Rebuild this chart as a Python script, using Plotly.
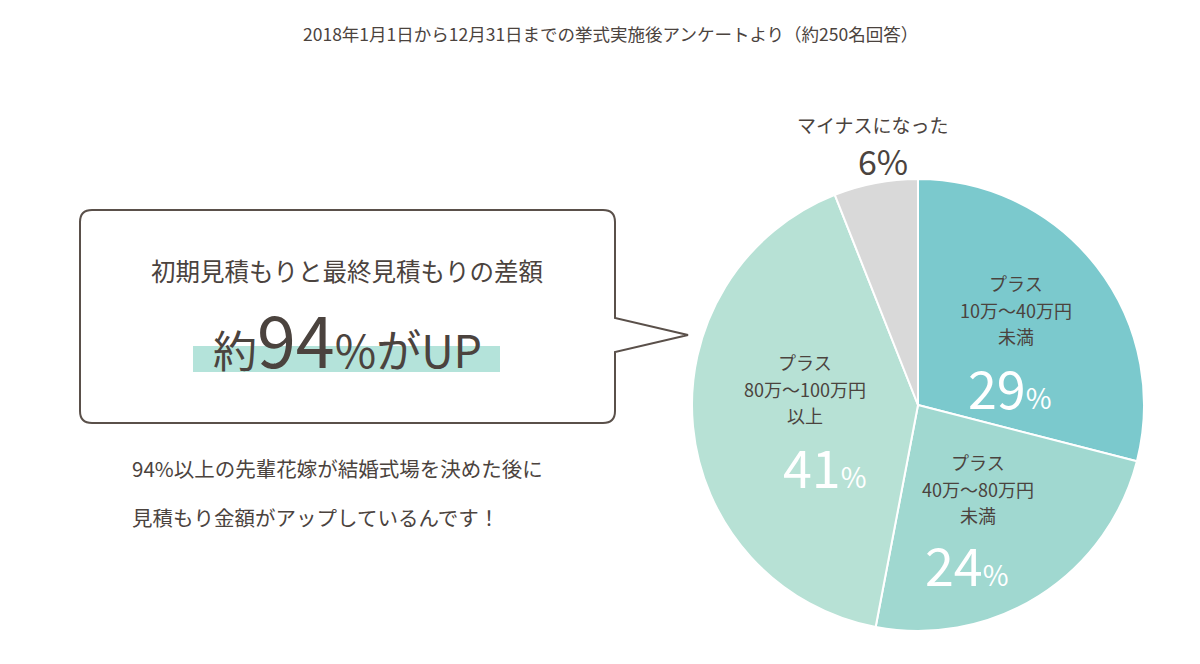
import plotly.graph_objects as go

# ---- data ----
categories = ["プラス 10万～40万円未満", "プラス 40万～80万円未満", "プラス 80万～100万円以上", "マイナスになった"]
values = [29, 24, 41, 6]
slice_colors = ["#7bc9cd", "#a0d8d0", "#b7e1d5", "#d9d9d9"]
label_lines = [["プラス", "10万～40万円", "未満"],
               ["プラス", "40万～80万円", "未満"],
               ["プラス", "80万～100万円", "以上"],
               ["マイナスになった"]]

header = "2018年1月1日から12月31日までの挙式実施後アンケートより（約250名回答）"
box_title = "初期見積もりと最終見積もりの差額"
headline_pct = 94
body_lines = ["94%以上の先輩花嫁が結婚式場を決めた後に", "見積もり金額がアップしているんです！"]

W, H = 1200, 664
OFF = 8  # default page body margin
FONT = "Noto Sans CJK JP"
TXT = "#4b433e"

fig = go.Figure()

# Pie (center ~ (918,405), radius ~226 px in page coordinates)
cx, cy, R = 918 - OFF, 405 - OFF, 226
fig.add_trace(go.Pie(
    labels=categories, values=values, sort=False, direction="clockwise", rotation=0,
    marker=dict(colors=slice_colors, line=dict(color="white", width=2)),
    textinfo="none", hoverinfo="label+percent", showlegend=False,
    domain=dict(x=[(cx - R) / W, (cx + R) / W], y=[(H - cy - R) / H, (H - cy + R) / H]),
))

ann = []
def A(x, y, text, size, color=TXT, xanchor="center"):
    ann.append(dict(x=x, y=y, xref="x", yref="y", text=text, showarrow=False,
                    font=dict(family=FONT, size=size, color=color),
                    xanchor=xanchor, yanchor="middle"))

A(610, 33, header, 17.5)

# slice labels
blocks = [(1016, [283, 310, 336], (1010, 386)),
          (978, [462, 489, 515], (967, 563)),
          (805, [362, 389, 415], (825, 465))]
for i, (x, ys, (px, py)) in enumerate(blocks):
    for line, y in zip(label_lines[i], ys):
        A(x, y, line, 18)
    A(px, py, f"{values[i]}<span style='font-size:28px'>%</span>", 52, color="white")
A(873, 124, label_lines[3][0], 19)
A(883, 160, f"{values[3]}%", 34)

# callout box with pointer
x0, y0, x1, y1, r = 80, 210, 615, 423, 12
path = (f"M {x0+r},{y0} L {x1-r},{y0} Q {x1},{y0} {x1},{y0+r} L {x1},318 L 688,335 L {x1},352 "
        f"L {x1},{y1-r} Q {x1},{y1} {x1-r},{y1} L {x0+r},{y1} Q {x0},{y1} {x0},{y1-r} "
        f"L {x0},{y0+r} Q {x0},{y0} {x0+r},{y0} Z")
shapes = [
    dict(type="rect", xref="x", yref="y", x0=193, x1=500, y0=346, y1=372,
         fillcolor="#b4e3da", line=dict(width=0), layer="below"),
    dict(type="path", xref="x", yref="y", path=path, line=dict(color="#5a504a", width=2),
         fillcolor="rgba(0,0,0,0)"),
]
A(347, 270, box_title, 24.5)
A(347, 337, f"<span style='font-size:44px'>約</span>{headline_pct}"
            f"<span style='font-size:45px'>%がUP</span>", 70)
for y, line in zip([468, 517], body_lines):
    A(130, y, line, 20.5, xanchor="left")

fig.update_layout(
    width=W, height=H, margin=dict(l=0, r=0, t=0, b=0),
    paper_bgcolor="white", plot_bgcolor="white",
    xaxis=dict(range=[OFF, W + OFF], visible=False, fixedrange=True),
    yaxis=dict(range=[H + OFF, OFF], visible=False, fixedrange=True),
    annotations=ann, shapes=shapes, showlegend=False,
    font=dict(family=FONT, color=TXT),
)
fig.write_html("out.html")
